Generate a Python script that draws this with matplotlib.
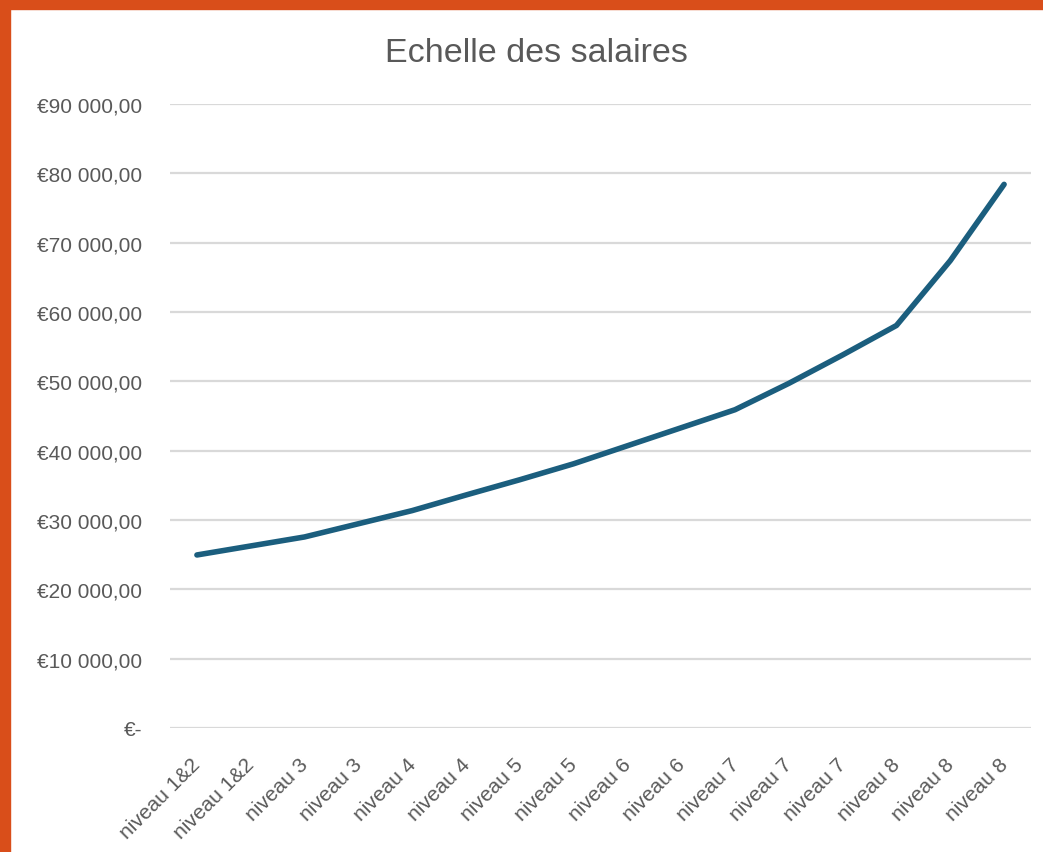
import matplotlib.pyplot as plt
import matplotlib.transforms as mtransforms
from matplotlib.patches import Rectangle
from matplotlib.ticker import FuncFormatter

# Data
categories = ['niveau 1&2', 'niveau 1&2', 'niveau 3', 'niveau 3', 'niveau 4',
              'niveau 4', 'niveau 5', 'niveau 5', 'niveau 6', 'niveau 6',
              'niveau 7', 'niveau 7', 'niveau 7', 'niveau 8', 'niveau 8',
              'niveau 8']
salaries = [24950, 26250, 27550, 29450, 31350, 33600, 35800, 38100,
            40700, 43300, 45900, 49700, 53800, 58050, 67400, 78400]

text_color = '#595959'
grid_color = '#d9d9d9'
line_color = '#1b5e7e'
border_color = '#d94e1a'


def euro(v, pos):
  if v == 0:
    return '€-'
  s = f'{v:,.2f}'.replace(',', ' ').replace('.', ',')
  return '€' + s


plt.rcParams['font.family'] = ['Liberation Sans', 'DejaVu Sans']

fig = plt.figure(figsize=(10.43, 8.53), dpi=100)

# Orange frame on the left and top
fig.patches.append(Rectangle((0, 0), 10 / 1043, 1, transform=fig.transFigure,
                             color=border_color, zorder=0))
fig.patches.append(Rectangle((0, 1 - 10 / 853), 1, 10 / 853,
                             transform=fig.transFigure, color=border_color,
                             zorder=0))

ax = fig.add_axes([0.163, 0.1454, 0.8255, 0.7316])

x = range(len(categories))
ax.plot(x, salaries, color=line_color, linewidth=4.0,
        solid_capstyle='round', solid_joinstyle='round', zorder=3)

ax.set_xlim(-0.5, len(categories) - 0.5)
ax.set_ylim(0, 90000)
ax.set_yticks(range(0, 90001, 10000))
ax.yaxis.set_major_formatter(FuncFormatter(euro))
ax.grid(axis='y', color=grid_color, linewidth=1.6)
ax.set_axisbelow(True)

for side in ['top', 'right', 'left', 'bottom']:
  ax.spines[side].set_visible(False)

ax.set_xticks(list(x))
ax.set_xticklabels(categories, rotation=45, ha='right',
                   rotation_mode='anchor')
ax.tick_params(axis='both', length=0, labelsize=15, colors=text_color)
ax.tick_params(axis='y', pad=20)
ax.tick_params(axis='x', pad=16)

# nudge the rotated labels a little left and down
shift = mtransforms.ScaledTranslation(-0.06, -0.04, fig.dpi_scale_trans)
for lbl in ax.get_xticklabels():
  lbl.set_transform(lbl.get_transform() + shift)

fig.text(0.514, 0.937, 'Echelle des salaires', ha='center', va='center',
         fontsize=24.5, color=text_color)

fig.savefig('out.png', dpi=100)
